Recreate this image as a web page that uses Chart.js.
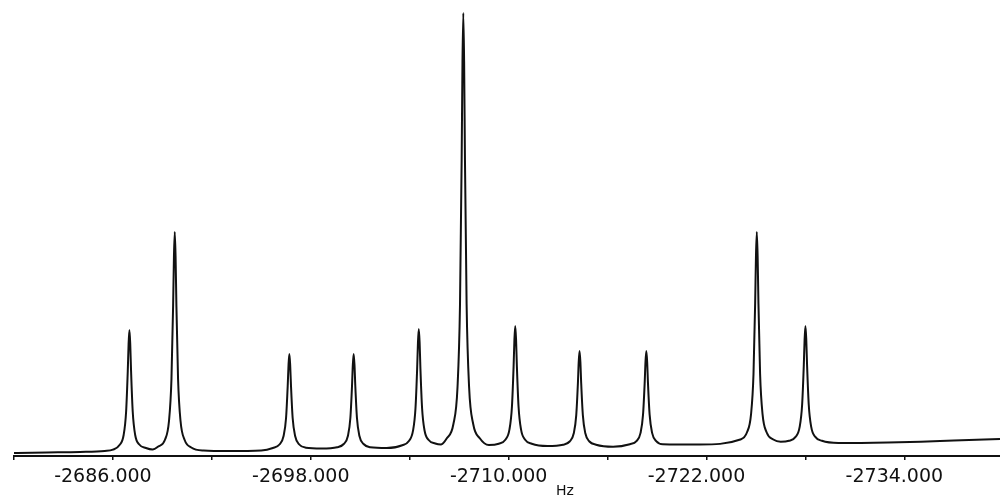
<!DOCTYPE html>
<html>
<head>
<meta charset="utf-8">
<title>Spectrum</title>
<script src="https://cdn.jsdelivr.net/npm/chart.js@4.4.1/dist/chart.umd.min.js"></script>
<style>
  html, body { margin: 0; padding: 0; background: #fff; }
  #wrap { width: 1000px; height: 498px; position: relative; }
</style>
</head>
<body>
<div id="wrap"><canvas id="spec"></canvas></div>
<script>
// chemical shift (Hz) and signal height, one row per peak
const shiftHz = [
  -2680.0, -2682.0, -2684.0, -2685.5,
  -2686.0, -2686.4, -2686.65, -2686.8, -2686.9, -2686.95, -2687.0, -2687.05, -2687.1, -2687.2, -2687.35, -2687.6, -2688.0,
  -2688.4,
  -2688.75, -2689.15, -2689.4, -2689.55, -2689.65, -2689.7, -2689.75, -2689.8, -2689.85, -2689.95, -2690.1, -2690.35, -2690.75,
  -2691.5, -2693.0, -2695.0,
  -2695.7, -2696.1, -2696.35, -2696.5, -2696.6, -2696.65, -2696.7, -2696.75, -2696.8, -2696.9, -2697.05, -2697.3, -2697.7,
  -2698.65,
  -2699.6, -2700.0, -2700.25, -2700.4, -2700.5, -2700.55, -2700.6, -2700.65, -2700.7, -2700.8, -2700.95, -2701.2, -2701.6,
  -2702.6,
  -2703.55, -2703.95, -2704.2, -2704.35, -2704.45, -2704.5, -2704.55, -2704.6, -2704.65, -2704.75, -2704.9, -2705.15, -2705.55,
  -2705.9,
  -2706.25, -2706.65, -2706.9, -2707.05, -2707.15, -2707.2, -2707.25, -2707.3, -2707.35, -2707.45, -2707.6, -2707.85, -2708.25,
  -2708.8,
  -2709.4, -2709.8, -2710.05, -2710.2, -2710.3, -2710.35, -2710.4, -2710.45, -2710.5, -2710.6, -2710.75, -2711.0, -2711.4,
  -2712.35,
  -2713.3, -2713.7, -2713.95, -2714.1, -2714.2, -2714.25, -2714.3, -2714.35, -2714.4, -2714.5, -2714.65, -2714.9, -2715.3,
  -2716.33,
  -2717.35, -2717.75, -2718.0, -2718.15, -2718.25, -2718.3, -2718.35, -2718.4, -2718.45, -2718.55, -2718.7, -2718.95, -2719.35,
  -2721.6,
  -2724.05, -2724.45, -2724.7, -2724.85, -2724.95, -2725.0, -2725.05, -2725.1, -2725.15, -2725.25, -2725.4, -2725.65, -2726.05,
  -2726.5,
  -2727.0, -2727.4, -2727.65, -2727.8, -2727.9, -2727.95, -2728.0, -2728.05, -2728.1, -2728.2, -2728.35, -2728.6, -2729.0,
  -2730.0, -2733.0, -2735.0, -2737.0, -2739.8
];
const intensity = [
  3, 3.5, 4, 5,
  6.3, 11, 21, 44.5, 85, 112, 126, 112, 85, 44.5, 21, 11.5, 8,
  6.5,
  9.5, 16, 35, 77, 150, 199, 224, 199, 150, 77, 35, 16, 8.5,
  5.5, 5, 5.5,
  8, 11.5, 20, 38, 70, 91, 102, 91, 70, 38, 20, 11.5, 8.3,
  7.5,
  8.8, 12, 20, 38, 70, 91.3, 102, 91.3, 70, 38, 20, 12, 8.8,
  8,
  10.8, 15, 25.3, 47.8, 87, 113.7, 127, 113.7, 87, 47.8, 25.5, 16, 12.5,
  11.5,
  17.7, 32, 69.3, 152, 296.5, 394, 443, 394, 296.5, 152, 69.3, 32, 17.7,
  11,
  12.3, 16.2, 26.6, 49.5, 89.4, 116.4, 130, 116.4, 89.4, 49.5, 26.6, 16.2, 12.3,
  10,
  11.3, 14.5, 22.7, 40.9, 72.7, 94.2, 105, 94.2, 72.7, 40.9, 22.7, 14.5, 11.3,
  9.3,
  11.8, 14.9, 23.1, 41.3, 72.9, 94.3, 105, 94.3, 72.9, 41.3, 23.1, 14.9, 11.8,
  11.5,
  16.5, 23.5, 41.7, 82, 152.5, 200, 224, 200, 152.5, 82, 41.7, 23.5, 16.5,
  14.3,
  15.2, 19.1, 29.1, 51.5, 90.5, 116.8, 130, 116.8, 90.5, 51.5, 29.1, 19.1, 15.2,
  13, 13.5, 14.3, 15.5, 17
];

// axis ticks
const tickHz = [-2680, -2686, -2692, -2698, -2704, -2710, -2716, -2722, -2728, -2734];
const labelledHz = [-2686, -2698, -2710, -2722, -2734];
const axisMin = -2739.8;
const axisMax = -2680;
const unitLabel = 'Hz';

const points = shiftHz.map((x, i) => ({ x: x, y: intensity[i] }));

const unitText = {
  id: 'unitText',
  afterDraw(chart) {
    const ctx = chart.ctx;
    ctx.save();
    ctx.font = '14px "DejaVu Sans"';
    ctx.fillStyle = '#111';
    ctx.textAlign = 'center';
    ctx.textBaseline = 'middle';
    ctx.fillText(unitLabel, 565, 491);
    ctx.restore();
  }
};

new Chart(document.getElementById('spec'), {
  type: 'line',
  data: {
    datasets: [{
      data: points,
      borderColor: '#111',
      borderWidth: 2,
      pointRadius: 0,
      fill: false,
      cubicInterpolationMode: 'monotone'
    }]
  },
  options: {
    responsive: true,
    maintainAspectRatio: false,
    animation: false,
    layout: { padding: { left: 14, right: 0, top: 10, bottom: 0 } },
    plugins: { legend: { display: false }, tooltip: { enabled: false } },
    scales: {
      x: {
        type: 'linear',
        reverse: true,
        min: axisMin,
        max: axisMax,
        afterBuildTicks: (scale) => { scale.ticks = tickHz.map(v => ({ value: v })); },
        afterFit: (scale) => { scale.height = 42; },
        border: { display: true, color: '#111', width: 2 },
        grid: { drawOnChartArea: false, drawTicks: true, tickLength: 4, color: '#111', lineWidth: 1.5 },
        ticks: {
          autoSkip: false,
          maxRotation: 0,
          padding: 6,
          labelOffset: -10,
          color: '#111',
          font: { family: 'DejaVu Sans', size: 19 },
          callback: (v) => labelledHz.includes(v) ? v.toFixed(3) : ''
        }
      },
      y: { display: false, min: 0, max: 446 }
    }
  },
  plugins: [unitText]
});
</script>
</body>
</html>
